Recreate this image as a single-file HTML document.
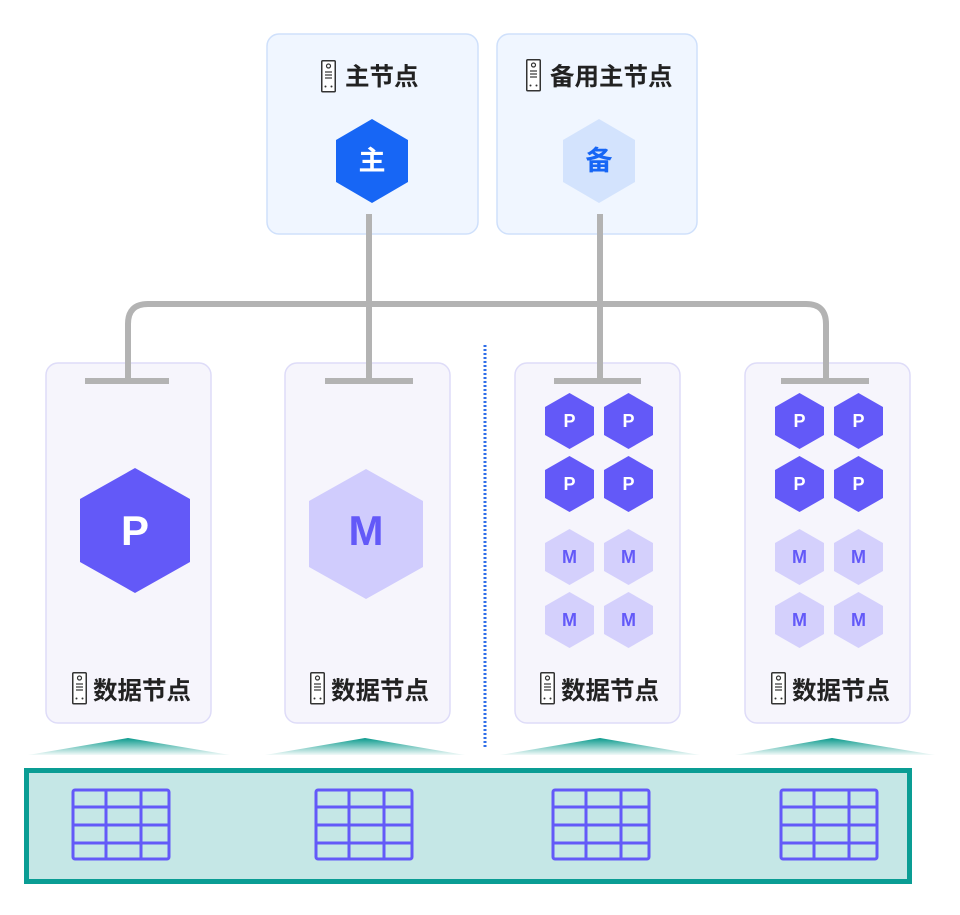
<!DOCTYPE html>
<html><head><meta charset="utf-8"><style>
html,body{margin:0;padding:0;background:#fff;}
svg{display:block;}
text{font-family:"Liberation Sans","Noto Sans CJK SC",sans-serif;font-weight:bold;}
</style></head><body>
<svg width="960" height="915" viewBox="0 0 960 915" xmlns="http://www.w3.org/2000/svg">
<defs>
<g id="srv">
<rect x="0.75" y="0.75" width="13.5" height="31" rx="1" fill="#fff" stroke="#333" stroke-width="1.5"/>
<circle cx="7.5" cy="6" r="2" fill="none" stroke="#333" stroke-width="1.2"/>
<line x1="4" y1="12" x2="11" y2="12" stroke="#333" stroke-width="1.2"/>
<line x1="4" y1="15" x2="11" y2="15" stroke="#333" stroke-width="1.2"/>
<line x1="4" y1="18" x2="11" y2="18" stroke="#333" stroke-width="1.2"/>
<circle cx="4.5" cy="26.5" r="1" fill="#333"/>
<circle cx="10.5" cy="26.5" r="1" fill="#333"/>
</g>
<polygon id="sh" points="0,-28 24.5,-14 24.5,14 0,28 -24.5,14 -24.5,-14"/>
<g id="tbl" fill="none" stroke="#6359f8" stroke-width="3">
<rect x="0" y="0" width="96" height="69" rx="2"/>
<line x1="33" y1="0" x2="33" y2="69"/>
<line x1="68" y1="0" x2="68" y2="69"/>
<line x1="0" y1="17" x2="96" y2="17"/>
<line x1="0" y1="35" x2="96" y2="35"/>
<line x1="0" y1="53" x2="96" y2="53"/>
</g>
<linearGradient id="tg" x1="0" y1="0" x2="0" y2="1">
<stop offset="0" stop-color="#0a9a8d"/><stop offset="1" stop-color="#0a9a8d" stop-opacity="0.05"/>
</linearGradient>
</defs>

<rect x="267" y="34" width="211" height="200" rx="12" fill="#f0f6ff" stroke="#cfe0fb" stroke-width="1.5"/>
<rect x="497" y="34" width="200" height="200" rx="12" fill="#f0f6ff" stroke="#cfe0fb" stroke-width="1.5"/>
<use href="#srv" x="321" y="60"/>
<text x="345" y="85" font-size="24.5" fill="#222">主节点</text>
<use href="#srv" x="526" y="59"/>
<text x="550" y="85" font-size="24.5" fill="#222">备用主节点</text>
<polygon points="372,119 408,140 408,182 372,203 336,182 336,140" fill="#1766f5"/>
<text x="372" y="170" font-size="27" fill="#fff" text-anchor="middle">主</text>
<polygon points="599,119 635,140 635,182 599,203 563,182 563,140" fill="#d3e3fd"/>
<text x="599" y="170" font-size="27" fill="#1766f5" text-anchor="middle">备</text>

<rect x="46" y="363" width="165" height="360" rx="12" fill="#f6f5fc" stroke="#dedcf8" stroke-width="1.5"/>
<rect x="285" y="363" width="165" height="360" rx="12" fill="#f6f5fc" stroke="#dedcf8" stroke-width="1.5"/>
<rect x="515" y="363" width="165" height="360" rx="12" fill="#f6f5fc" stroke="#dedcf8" stroke-width="1.5"/>
<rect x="745" y="363" width="165" height="360" rx="12" fill="#f6f5fc" stroke="#dedcf8" stroke-width="1.5"/>

<g stroke="#b3b3b3" stroke-width="6" fill="none">
<line x1="369" y1="214" x2="369" y2="381"/>
<line x1="600" y1="214" x2="600" y2="381"/>
<path d="M128,381 V324 Q128,304 148,304 H806 Q826,304 826,324 V381"/>
<line x1="85" y1="381" x2="169" y2="381"/>
<line x1="325" y1="381" x2="413" y2="381"/>
<line x1="554" y1="381" x2="641" y2="381"/>
<line x1="781" y1="381" x2="869" y2="381"/>
</g>
<line x1="485" y1="345" x2="485" y2="748" stroke="#2f6ee8" stroke-width="3" stroke-dasharray="2,2"/>

<polygon points="135,468 190,499 190,562 135,593 80,562 80,499" fill="#6359f8"/>
<text x="135" y="545" font-size="42" fill="#fff" text-anchor="middle">P</text>
<polygon points="366,469 423,501 423,567 366,599 309,567 309,501" fill="#d0ccfd"/>
<text x="366" y="545" font-size="42" fill="#6359f8" text-anchor="middle">M</text>

<g fill="#6359f8">
<use href="#sh" x="569.5" y="421"/><use href="#sh" x="628.5" y="421"/>
<use href="#sh" x="569.5" y="484"/><use href="#sh" x="628.5" y="484"/>
<use href="#sh" x="799.5" y="421"/><use href="#sh" x="858.5" y="421"/>
<use href="#sh" x="799.5" y="484"/><use href="#sh" x="858.5" y="484"/>
</g>
<g fill="#d4d0fc">
<use href="#sh" x="569.5" y="557"/><use href="#sh" x="628.5" y="557"/>
<use href="#sh" x="569.5" y="620"/><use href="#sh" x="628.5" y="620"/>
<use href="#sh" x="799.5" y="557"/><use href="#sh" x="858.5" y="557"/>
<use href="#sh" x="799.5" y="620"/><use href="#sh" x="858.5" y="620"/>
</g>
<g font-size="18" fill="#fff" text-anchor="middle">
<text x="569.5" y="427">P</text><text x="628.5" y="427">P</text>
<text x="569.5" y="490">P</text><text x="628.5" y="490">P</text>
<text x="799.5" y="427">P</text><text x="858.5" y="427">P</text>
<text x="799.5" y="490">P</text><text x="858.5" y="490">P</text>
</g>
<g font-size="18" fill="#6359f8" text-anchor="middle">
<text x="569.5" y="563">M</text><text x="628.5" y="563">M</text>
<text x="569.5" y="626">M</text><text x="628.5" y="626">M</text>
<text x="799.5" y="563">M</text><text x="858.5" y="563">M</text>
<text x="799.5" y="626">M</text><text x="858.5" y="626">M</text>
</g>

<use href="#srv" x="72" y="672"/><text x="93" y="699" font-size="24.5" fill="#222">数据节点</text>
<use href="#srv" x="310" y="672"/><text x="331" y="699" font-size="24.5" fill="#222">数据节点</text>
<use href="#srv" x="540" y="672"/><text x="561" y="699" font-size="24.5" fill="#222">数据节点</text>
<use href="#srv" x="771" y="672"/><text x="792" y="699" font-size="24.5" fill="#222">数据节点</text>

<g fill="url(#tg)">
<polygon points="128,738 230,755 28,755"/>
<polygon points="365,738 465,755 265,755"/>
<polygon points="600,738 700,755 500,755"/>
<polygon points="832,738 935,755 735,755"/>
</g>

<rect x="26.5" y="770.5" width="883" height="111" fill="#c5e7e6" stroke="#0a9d94" stroke-width="5"/>
<use href="#tbl" x="73" y="790"/>
<use href="#tbl" x="316" y="790"/>
<use href="#tbl" x="553" y="790"/>
<use href="#tbl" x="781" y="790"/>
</svg>
</body></html>
